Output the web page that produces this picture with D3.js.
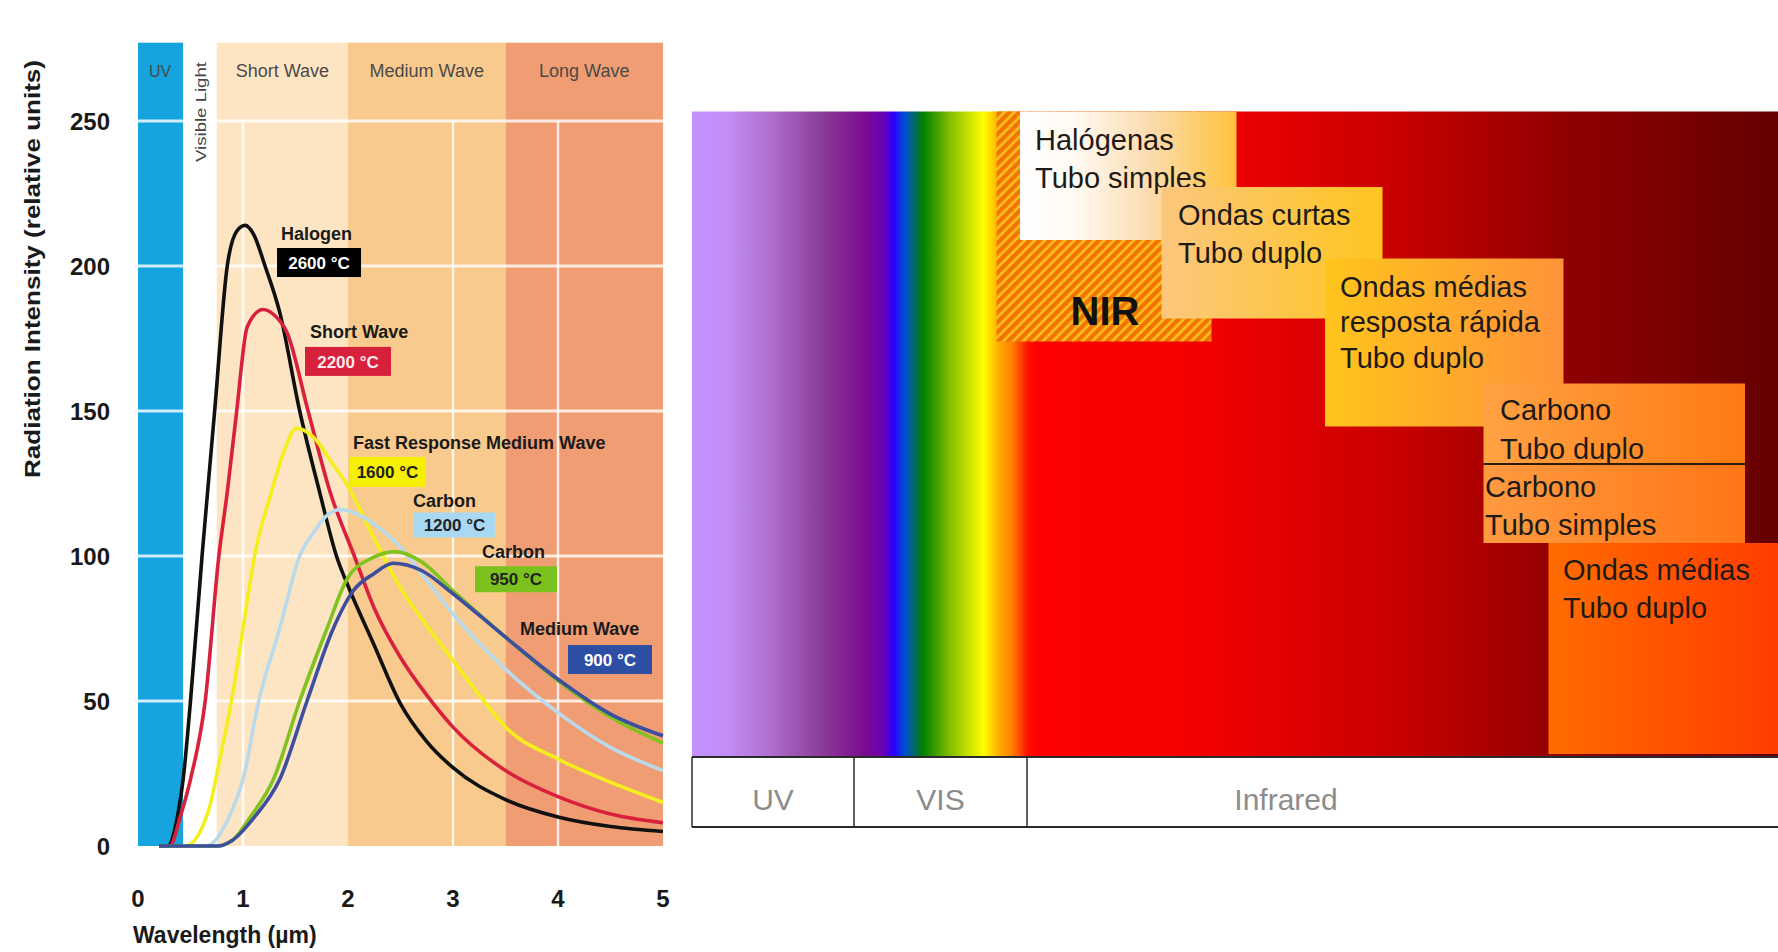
<!DOCTYPE html>
<html>
<head>
<meta charset="utf-8">
<script src="https://cdn.jsdelivr.net/npm/d3@7/dist/d3.min.js"></script>
<style>
  body { margin: 0; background: #fff; }
  svg { display: block; font-family: "Liberation Sans", Arial, Helvetica, sans-serif; }
</style>
</head>
<body>
<svg id="chart" width="1778" height="952"></svg>
<script>
// ---- data: radiation curves (wavelength in um, intensity in relative units)
var halogenX = [0.2,0.28,0.38,0.43,0.5,0.61,0.73,0.85,0.94,1.02,1.1,1.21,1.35,1.54,1.73,1.89,2.02,2.24,2.5,2.75,3,3.5,4,4.5,5];
var halogenY = [0,0,11,23,50,100,150,200,212,214,211,200,184,150,122,100,88,70,49,36,27,16,10,6.7,5];

var shortX = [0.2,0.3,0.41,0.5,0.64,0.77,0.85,0.94,1.04,1.19,1.3,1.42,1.62,1.83,2.06,2.25,2.5,2.75,3,3.5,4,4.5,5];
var shortY = [0,0,11,23,50,100,122,150,179,185,183,177,150,122,100,82,65,52,41,26,17,11,8];

var fastX = [0.3,0.45,0.67,0.78,0.89,1.0,1.11,1.27,1.38,1.51,1.67,1.85,2.0,2.25,2.5,2.75,3,3.25,3.5,4,4.5,5];
var fastY = [0,0,12,30,50,75,100,122,135,144,141,132,124,106,89,76,64,52,41,30,22,15];

var carbon12X = [0.5,0.65,0.88,1.0,1.15,1.35,1.54,1.67,1.8,1.92,2.05,2.25,2.5,2.72,3,3.5,4,4.5,5];
var carbon12Y = [0,0,11,23,50,75,100,108,114,116,115,111,103,93,80,61,46,34,26];

var carbon95X = [0.2,0.75,0.9,1.07,1.29,1.54,1.8,1.99,2.24,2.45,2.7,3,3.5,4,4.5,5];
var carbon95Y = [0,0,2,10,23,50,75,92,99.5,101.5,98,88,72,57,44.5,35.5];

var mediumX = [0.2,0.76,0.9,1.11,1.35,1.61,1.86,2.05,2.25,2.43,2.7,3,3.5,4,4.5,5];
var mediumY = [0,0,2,10,23,50,75,88,94,97.5,95,87,72,57.5,45.5,38];

var seriesNames = ["Halogen", "Short Wave", "Fast Response Medium Wave", "Carbon", "Carbon", "Medium Wave"];
var seriesTemps = ["2600 °C", "2200 °C", "1600 °C", "1200 °C", "950 °C", "900 °C"];

// spectral bands of the left chart
var bandNames = ["UV", "", "Short Wave", "Medium Wave", "Long Wave"];
var bandStart = [0, 0.43, 0.75, 2.0, 3.5];
var bandEnd = [0.43, 0.75, 2.0, 3.5, 5.0];

var xTicks = [0, 1, 2, 3, 4, 5];
var yTicks = [0, 50, 100, 150, 200, 250];
var xGrid = [1, 3, 4];

// right diagram texts
var regionNames = ["UV", "VIS", "Infrared"];
var heaterLines = [
  ["Halógenas", "Tubo simples"],
  ["Ondas curtas", "Tubo duplo"],
  ["Ondas médias", "resposta rápida", "Tubo duplo"],
  ["Carbono", "Tubo duplo"],
  ["Carbono", "Tubo simples"],
  ["Ondas médias", "Tubo duplo"]
];

// ---- styles / layout
var curveColors = ["#111111", "#d9213e", "#f4ef1c", "#b9d9ec", "#80c21e", "#3d4e9f"];
var boxFill = ["#000000", "#d6203c", "#f5f000", "#a9d9f2", "#7cc21e", "#2d4ea3"];
var boxText = ["#ffffff", "#ffe8ee", "#222222", "#222222", "#222222", "#ffffff"];
var bandColors = ["#15a4de", "#ffffff", "#fde5c3", "#f8ca8d", "#f09d74"];
// label anchors in data units: title [x,y], box centre [x,y], box size [w,h] px
var labelPos = [
  {t: [1.362, 209.0], b: [1.724, 201.2], s: [84, 29]},
  {t: [1.638, 175.2], b: [2.000, 167.1], s: [86, 29]},
  {t: [2.048, 136.9], b: [2.376, 129.0], s: [75, 30]},
  {t: [2.619, 116.9], b: [3.014, 110.7], s: [81, 25]},
  {t: [3.276, 99.4], b: [3.600, 92.0], s: [82, 26]},
  {t: [3.638, 72.7], b: [4.495, 64.3], s: [84, 29]}
];

var svg = d3.select("#chart");
var defs = svg.append("defs");

var x = d3.scaleLinear().domain([0, 5]).range([138, 663]);
var y = d3.scaleLinear().domain([0, 250]).range([846, 121]);
var headerTop = 277;

var left = svg.append("g");

// bands
left.selectAll("rect.band")
  .data(bandNames)
  .enter().append("rect")
    .attr("class", "band")
    .attr("x", function(d, i) { return x(bandStart[i]); })
    .attr("width", function(d, i) { return x(bandEnd[i]) - x(bandStart[i]); })
    .attr("y", y(headerTop))
    .attr("height", y(0) - y(headerTop))
    .attr("fill", function(d, i) { return bandColors[i]; });

// white grid
left.selectAll("line.hgrid")
  .data(yTicks.slice(1))
  .enter().append("line")
    .attr("x1", x(0)).attr("x2", x(5))
    .attr("y1", function(d) { return y(d); })
    .attr("y2", function(d) { return y(d); })
    .attr("stroke", "#ffffff").attr("stroke-opacity", 0.8).attr("stroke-width", 3);

left.selectAll("line.vgrid")
  .data(xGrid)
  .enter().append("line")
    .attr("x1", function(d) { return x(d); })
    .attr("x2", function(d) { return x(d); })
    .attr("y1", y(250)).attr("y2", y(0))
    .attr("stroke", "#ffffff").attr("stroke-opacity", 0.8).attr("stroke-width", 2.5);

// band headers
left.selectAll("text.band")
  .data(bandNames)
  .enter().append("text")
    .attr("x", function(d, i) { return i == 0 ? x(bandStart[i]) + 22 : (x(bandStart[i]) + x(bandEnd[i])) / 2; })
    .attr("y", 77)
    .attr("text-anchor", "middle")
    .style("font-size", function(d, i) { return i == 0 ? "16px" : "18px"; })
    .attr("fill", "#4a4a4a")
    .text(function(d) { return d; });

left.append("text")
  .attr("transform", "translate(" + (x(0.59) + 6) + ",112) rotate(-90)")
  .attr("text-anchor", "middle")
  .attr("textLength", 100)
  .attr("lengthAdjust", "spacingAndGlyphs")
  .style("font-size", "15px")
  .attr("fill", "#444")
  .text("Visible Light");

// curves
var line = d3.line()
  .curve(d3.curveMonotoneX)
  .x(function(d) { return x(d[0]); })
  .y(function(d) { return y(d[1]); });

var seriesX = [halogenX, shortX, fastX, carbon12X, carbon95X, mediumX];
var seriesY = [halogenY, shortY, fastY, carbon12Y, carbon95Y, mediumY];

left.selectAll("path.curve")
  .data(seriesNames)
  .enter().append("path")
    .attr("class", "curve")
    .attr("fill", "none")
    .attr("stroke", function(d, i) { return curveColors[i]; })
    .attr("stroke-width", 3.6)
    .attr("stroke-linejoin", "round")
    .attr("d", function(d, i) { return line(d3.zip(seriesX[i], seriesY[i])); });

// curve labels
var lab = left.selectAll("g.lab")
  .data(seriesNames)
  .enter().append("g").attr("class", "lab");

lab.append("text")
  .attr("x", function(d, i) { return x(labelPos[i].t[0]); })
  .attr("y", function(d, i) { return y(labelPos[i].t[1]); })
  .style("font-size", "18px").style("font-weight", "bold")
  .attr("fill", "#1a1a1a")
  .text(function(d) { return d; });

lab.append("rect")
  .attr("x", function(d, i) { return x(labelPos[i].b[0]) - labelPos[i].s[0] / 2; })
  .attr("y", function(d, i) { return y(labelPos[i].b[1]) - labelPos[i].s[1] / 2; })
  .attr("width", function(d, i) { return labelPos[i].s[0]; })
  .attr("height", function(d, i) { return labelPos[i].s[1]; })
  .attr("fill", function(d, i) { return boxFill[i]; });

lab.append("text")
  .attr("x", function(d, i) { return x(labelPos[i].b[0]); })
  .attr("y", function(d, i) { return y(labelPos[i].b[1]); })
  .attr("dy", "0.36em")
  .attr("text-anchor", "middle")
  .style("font-size", "17px").style("font-weight", "bold")
  .attr("fill", function(d, i) { return boxText[i]; })
  .text(function(d, i) { return seriesTemps[i]; });

// axes labels
left.selectAll("text.yt")
  .data(yTicks)
  .enter().append("text")
    .attr("x", 110)
    .attr("y", function(d) { return y(d); })
    .attr("dy", "0.36em")
    .attr("text-anchor", "end")
    .style("font-size", "24px").style("font-weight", "bold")
    .attr("fill", "#1a1a1a")
    .text(function(d) { return d; });

left.selectAll("text.xt")
  .data(xTicks)
  .enter().append("text")
    .attr("x", function(d) { return x(d); })
    .attr("y", 907)
    .attr("text-anchor", "middle")
    .style("font-size", "24px").style("font-weight", "bold")
    .attr("fill", "#1a1a1a")
    .text(function(d) { return d; });

left.append("text")
  .attr("x", 133).attr("y", 943)
  .style("font-size", "23px").style("font-weight", "bold")
  .attr("fill", "#1a1a1a")
  .text("Wavelength (µm)");

left.append("text")
  .attr("transform", "translate(40,269) rotate(-90)")
  .attr("text-anchor", "middle")
  .attr("textLength", 418)
  .attr("lengthAdjust", "spacingAndGlyphs")
  .style("font-size", "22px").style("font-weight", "bold")
  .attr("fill", "#1a1a1a")
  .text("Radiation Intensity (relative units)");

// ---- right diagram
var specL = 692, specR = 1778, specT = 111.5, specB = 757, rowB = 827;
var regionEdges = [692, 854, 1027, 1778];

var spectrumStops = [
  [692, "#c490fa"], [726, "#c28ef6"], [769, "#b070d0"], [823, "#8a3a98"],
  [866, "#7a0a90"], [884, "#6800b8"], [894, "#2800ff"], [905, "#0050d0"],
  [923, "#008000"], [951, "#88c000"], [984, "#ffff00"], [998, "#ffb000"],
  [1012, "#ff8000"], [1028, "#ff1000"], [1037, "#ff0000"], [1200, "#f40000"],
  [1400, "#c80000"], [1560, "#920000"], [1778, "#640000"]
];

var spec = defs.append("linearGradient").attr("id", "spec")
  .attr("gradientUnits", "userSpaceOnUse")
  .attr("x1", specL).attr("x2", specR).attr("y1", 0).attr("y2", 0);
spec.selectAll("stop").data(spectrumStops).enter().append("stop")
  .attr("offset", function(d) { return (d[0] - specL) / (specR - specL); })
  .attr("stop-color", function(d) { return d[1]; });

var hatch = defs.append("pattern").attr("id", "hatch")
  .attr("patternUnits", "userSpaceOnUse")
  .attr("width", 7).attr("height", 7)
  .attr("patternTransform", "rotate(45)");
hatch.append("rect").attr("width", 7).attr("height", 7).attr("fill", "#fbbf1e");
hatch.append("rect").attr("width", 4.3).attr("height", 7).attr("fill", "#f27300");

var right = svg.append("g");

right.append("rect")
  .attr("x", specL).attr("y", specT)
  .attr("width", specR - specL).attr("height", specB - specT)
  .attr("fill", "url(#spec)");

// NIR hatched area
right.append("rect")
  .attr("x", 996.5).attr("y", specT)
  .attr("width", 215).attr("height", 341.5 - specT)
  .attr("fill", "url(#hatch)");

var boxLayout = [
  {x: 1020, y: specT, w: 216.5, h: 128.5, tx: 1035, ty: [150, 188], g: [["0", "#ffffff"], ["0.25", "#fffaf3"], ["0.6", "#fcdcae"], ["1", "#ffc23a"]]},
  {x: 1161.5, y: 187, w: 221, h: 131.5, tx: 1178, ty: [225, 263], g: [["0", "#fcc77e"], ["1", "#ffc520"]]},
  {x: 1325, y: 258.5, w: 238.5, h: 168, tx: 1340, ty: [297, 332, 368], g: [["0", "#ffc51c"], ["1", "#ff923a"]]},
  {x: 1483.5, y: 383.5, w: 261.5, h: 80.5, tx: 1500, ty: [420, 459], g: [["0", "#ffa244"], ["1", "#ff7a12"]]},
  {x: 1483.5, y: 464, w: 261.5, h: 79, tx: 1485, ty: [497, 535], g: [["0", "#ff9a40"], ["1", "#ff7616"]]},
  {x: 1548.5, y: 543, w: 229.5, h: 211, tx: 1563, ty: [580, 618], g: [["0", "#ff6c00"], ["1", "#ff3c00"]]}
];

heaterLines.forEach(function(lines, i) {
  var b = boxLayout[i];
  var gr = defs.append("linearGradient").attr("id", "box" + i)
    .attr("x1", 0).attr("x2", 1).attr("y1", 0).attr("y2", 0);
  gr.selectAll("stop").data(b.g).enter().append("stop")
    .attr("offset", function(d) { return d[0]; })
    .attr("stop-color", function(d) { return d[1]; });
});

var boxes = right.selectAll("g.heater")
  .data(heaterLines)
  .enter().append("g").attr("class", "heater");

boxes.append("rect")
  .attr("x", function(d, i) { return boxLayout[i].x; })
  .attr("y", function(d, i) { return boxLayout[i].y; })
  .attr("width", function(d, i) { return boxLayout[i].w; })
  .attr("height", function(d, i) { return boxLayout[i].h; })
  .attr("fill", function(d, i) { return "url(#box" + i + ")"; });

boxes.selectAll("text")
  .data(function(d, i) { return d.map(function(t, j) { return {t: t, x: boxLayout[i].tx, y: boxLayout[i].ty[j]}; }); })
  .enter().append("text")
    .attr("x", function(d) { return d.x; })
    .attr("y", function(d) { return d.y; })
    .style("font-size", "29px")
    .attr("fill", "#1e1a18")
    .text(function(d) { return d.t; });

// separator under "Carbono / Tubo duplo"
right.append("line")
  .attr("x1", 1483.5).attr("x2", 1745)
  .attr("y1", 464).attr("y2", 464)
  .attr("stroke", "#2a1a10").attr("stroke-width", 1.8);

right.append("text")
  .attr("x", 1105).attr("y", 325)
  .attr("text-anchor", "middle")
  .style("font-size", "40px").style("font-weight", "bold")
  .attr("fill", "#111")
  .text("NIR");

// region row
right.append("line").attr("x1", specL).attr("x2", specR).attr("y1", specB).attr("y2", specB)
  .attr("stroke", "#2a2a2a").attr("stroke-width", 2);
right.append("line").attr("x1", specL).attr("x2", specR).attr("y1", rowB).attr("y2", rowB)
  .attr("stroke", "#2a2a2a").attr("stroke-width", 2);
right.selectAll("line.div")
  .data(regionEdges.slice(0, 3))
  .enter().append("line")
    .attr("x1", function(d) { return d; }).attr("x2", function(d) { return d; })
    .attr("y1", specB).attr("y2", rowB)
    .attr("stroke", "#2a2a2a").attr("stroke-width", 1.5);

right.selectAll("text.region")
  .data(regionNames)
  .enter().append("text")
    .attr("x", function(d, i) { return i == 2 ? 1286 : (regionEdges[i] + regionEdges[i + 1]) / 2; })
    .attr("y", 810)
    .attr("text-anchor", "middle")
    .style("font-size", "30px")
    .attr("fill", "#8c8c8c")
    .text(function(d) { return d; });
</script>
</body>
</html>
